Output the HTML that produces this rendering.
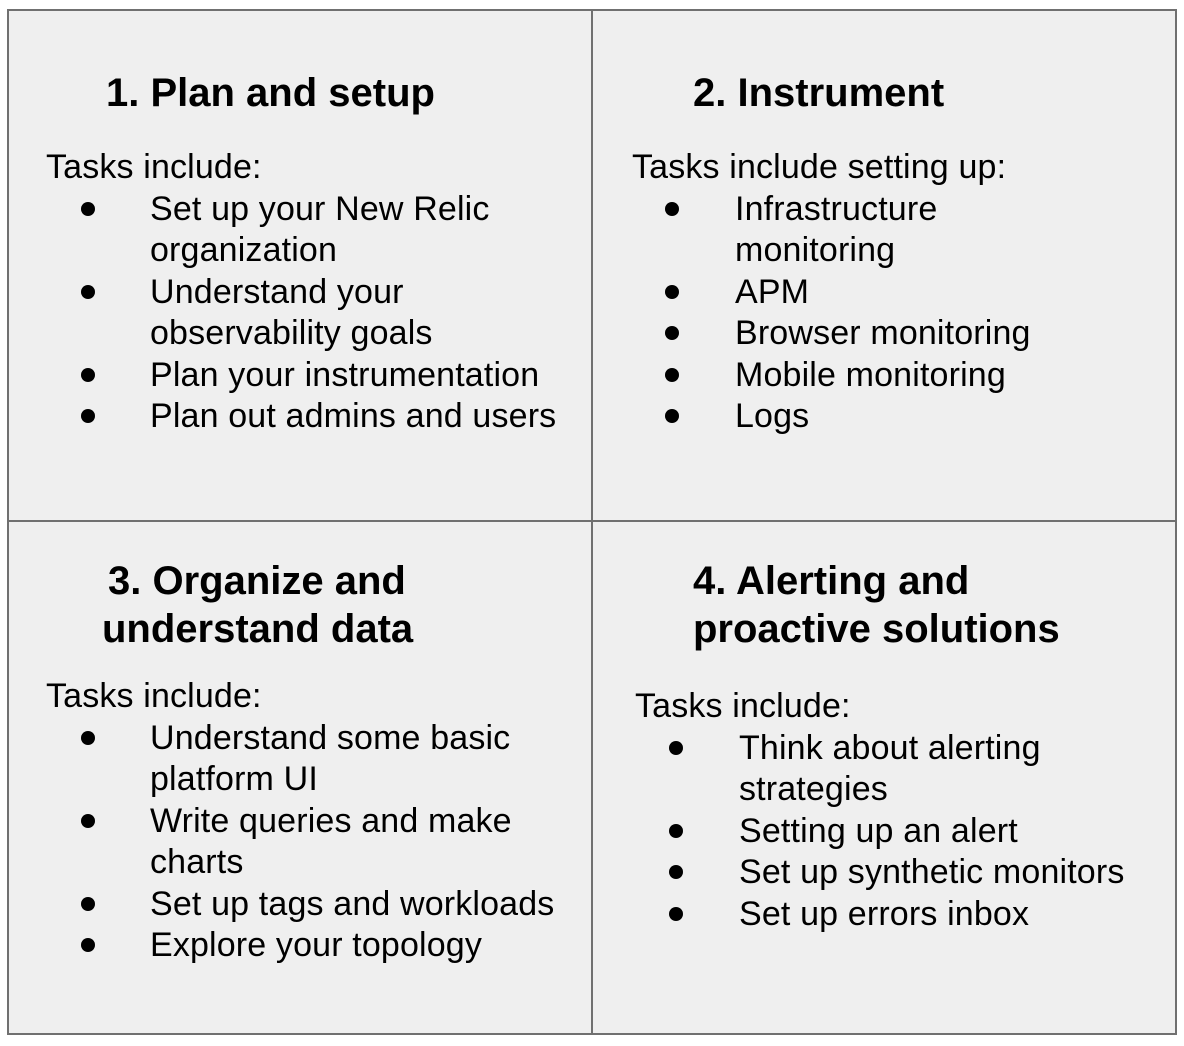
<!DOCTYPE html>
<html><head><meta charset="utf-8"><style>
body{margin:0;width:1184px;height:1046px;background:#fff;position:relative;font-family:"Liberation Sans",Arial,sans-serif;color:#000;overflow:hidden}
.q{position:absolute;background:#efefef;border:2px solid #707070;box-sizing:border-box}
.t{position:absolute;font-size:34px;letter-spacing:0.15px;line-height:42px;height:42px;white-space:nowrap}
.h{position:absolute;font-size:40px;font-weight:bold;line-height:48px;white-space:nowrap}
.b{position:absolute;width:14px;height:14px;border-radius:50%;background:#000}
</style></head><body>
<div class="q" style="left:7px;top:9px;width:586px;height:514px"></div>
<div class="q" style="left:591px;top:9px;width:586px;height:514px"></div>
<div class="q" style="left:7px;top:520px;width:586px;height:515px"></div>
<div class="q" style="left:591px;top:520px;width:586px;height:515px"></div>

<div class="h" style="left:106px;top:69px">1. Plan and setup</div>
<div class="t" style="left:46px;top:146px">Tasks include:</div>
<div class="b" style="left:81px;top:202px"></div><div class="t" style="left:150px;top:188px">Set up your New Relic</div>
<div class="t" style="left:150px;top:229px">organization</div>
<div class="b" style="left:81px;top:285px"></div><div class="t" style="left:150px;top:271px">Understand your</div>
<div class="t" style="left:150px;top:312px">observability goals</div>
<div class="b" style="left:81px;top:368px"></div><div class="t" style="left:150px;top:354px">Plan your instrumentation</div>
<div class="b" style="left:81px;top:409px"></div><div class="t" style="left:150px;top:395px">Plan out admins and users</div>

<div class="h" style="left:693px;top:69px">2. Instrument</div>
<div class="t" style="left:632px;top:146px">Tasks include setting up:</div>
<div class="b" style="left:665px;top:202px"></div><div class="t" style="left:735px;top:188px">Infrastructure</div>
<div class="t" style="left:735px;top:229px">monitoring</div>
<div class="b" style="left:665px;top:285px"></div><div class="t" style="left:735px;top:271px">APM</div>
<div class="b" style="left:665px;top:326px"></div><div class="t" style="left:735px;top:312px">Browser monitoring</div>
<div class="b" style="left:665px;top:368px"></div><div class="t" style="left:735px;top:354px">Mobile monitoring</div>
<div class="b" style="left:665px;top:409px"></div><div class="t" style="left:735px;top:395px">Logs</div>

<div class="h" style="left:108px;top:557px">3. Organize and</div>
<div class="h" style="left:102px;top:605px">understand data</div>
<div class="t" style="left:46px;top:675px">Tasks include:</div>
<div class="b" style="left:81px;top:731px"></div><div class="t" style="left:150px;top:717px">Understand some basic</div>
<div class="t" style="left:150px;top:758px">platform UI</div>
<div class="b" style="left:81px;top:814px"></div><div class="t" style="left:150px;top:800px">Write queries and make</div>
<div class="t" style="left:150px;top:841px">charts</div>
<div class="b" style="left:81px;top:897px"></div><div class="t" style="left:150px;top:883px">Set up tags and workloads</div>
<div class="b" style="left:81px;top:938px"></div><div class="t" style="left:150px;top:924px">Explore your topology</div>

<div class="h" style="left:693px;top:557px">4. Alerting and</div>
<div class="h" style="left:693px;top:605px">proactive solutions</div>
<div class="t" style="left:635px;top:685px">Tasks include:</div>
<div class="b" style="left:669px;top:741px"></div><div class="t" style="left:739px;top:727px">Think about alerting</div>
<div class="t" style="left:739px;top:768px">strategies</div>
<div class="b" style="left:669px;top:824px"></div><div class="t" style="left:739px;top:810px">Setting up an alert</div>
<div class="b" style="left:669px;top:865px"></div><div class="t" style="left:739px;top:851px">Set up synthetic monitors</div>
<div class="b" style="left:669px;top:907px"></div><div class="t" style="left:739px;top:893px">Set up errors inbox</div>
</body></html>
